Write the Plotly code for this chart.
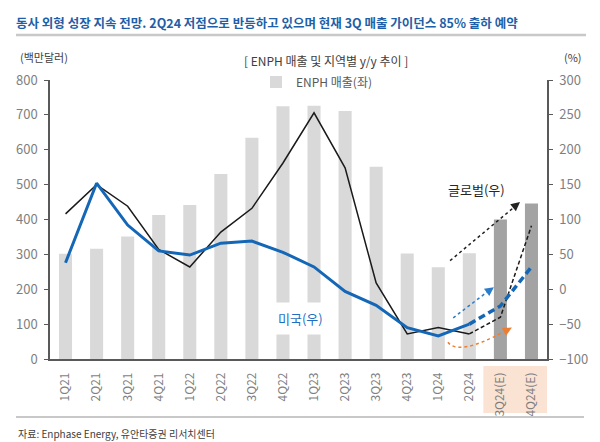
import math
import plotly.graph_objects as go

quarters = ["1Q21", "2Q21", "3Q21", "4Q21", "1Q22", "2Q22", "3Q22", "4Q22",
            "1Q23", "2Q23", "3Q23", "4Q23", "1Q24", "2Q24", "3Q24(E)", "4Q24(E)"]
revenue = [301.8, 316.1, 351.5, 412.7, 441.3, 530.2, 634.7, 724.7,
           726.0, 711.1, 551.1, 302.6, 263.3, 303.5, 400, 446]
global_yoy = [108, 150, 119, 57, 32, 82, 116, 181, 253, 174, 9, -64, -55, -64, -40, 91]
us_yoy = [38, 152, 92, 55, 49, 66, 69, 53, 32, -3, -23, -55, -67, -50, -24, 32]
n_actual = 14  # 1Q21..2Q24 actual, rest estimates

FONT = "Noto Sans CJK KR"
W, H = 600, 442
L, R, T, B = 50, 53, 80, 83

def px(x):
    return (x - L) / (W - L - R)

def py(y):
    return (H - B - y) / (H - T - B)

idx = list(range(len(quarters)))
bar_colors = ["#d9d9d9"] * n_actual + ["#a3a3a3"] * (len(quarters) - n_actual)

fig = go.Figure()
fig.add_trace(go.Bar(x=idx, y=revenue, width=0.42, marker_color=bar_colors,
                     marker_line_width=0, name="ENPH 매출(좌)", yaxis="y"))
# Global y/y
fig.add_trace(go.Scatter(x=idx[:n_actual], y=global_yoy[:n_actual], mode="lines",
                         line=dict(color="#1a1a1a", width=1.5), yaxis="y2", showlegend=False))
fig.add_trace(go.Scatter(x=idx[n_actual - 1:], y=global_yoy[n_actual - 1:], mode="lines",
                         line=dict(color="#1a1a1a", width=1.5, dash="4px,2.5px"), yaxis="y2", showlegend=False))
# US y/y
fig.add_trace(go.Scatter(x=idx[:n_actual], y=us_yoy[:n_actual], mode="lines",
                         line=dict(color="#1467b6", width=3), yaxis="y2", showlegend=False))
fig.add_trace(go.Scatter(x=idx[n_actual - 1:], y=us_yoy[n_actual - 1:], mode="lines",
                         line=dict(color="#1467b6", width=3.5, dash="7px,4px"), yaxis="y2", showlegend=False))

shapes = []
annotations = []

# peach highlight behind estimate labels
shapes.append(dict(type="rect", xref="x", yref="paper", x0=13.45, x1=15.5,
                   y0=py(413), y1=py(366), fillcolor="#fbe3d3", line_width=0, layer="below"))
# title underline and source line
shapes.append(dict(type="line", xref="paper", yref="paper", x0=px(16), x1=px(586),
                   y0=py(35), y1=py(35), line=dict(color="#c8c8c8", width=2.5)))
shapes.append(dict(type="line", xref="paper", yref="paper", x0=px(16), x1=px(584),
                   y0=py(417), y1=py(417), line=dict(color="#c8c8c8", width=2)))

# decorative dotted arrows (data coordinates: category index, right-axis %)
def arrow_head(x, y, dx, dy, color):
    m = math.hypot(dx, dy)
    annotations.append(dict(x=x, y=y, xref="x", yref="y2", text="", showarrow=True,
                            ax=-dx / m * 9, ay=dy / m * 9, arrowhead=2, arrowsize=1.2,
                            arrowwidth=1.5, arrowcolor=color, standoff=0, startstandoff=0))

shapes.append(dict(type="line", xref="x", yref="y2", x0=12.38, y0=41, x1=14.45, y1=118,
                   line=dict(color="#222222", width=1.5, dash="dot")))
arrow_head(14.63, 125, 70, 58, "#222222")
shapes.append(dict(type="line", xref="x", yref="y2", x0=12.48, y0=-41, x1=13.6, y1=-3,
                   line=dict(color="#2a7ccc", width=1.5, dash="dot")))
arrow_head(13.79, 3, 41, 30, "#2a7ccc")
shapes.append(dict(type="path", xref="x", yref="y2",
                   path="M 12.31,-76 Q 12.65,-96 14.1,-61",
                   line=dict(color="#ee7d31", width=1.5, dash="dot")))
arrow_head(14.37, -55, 57, 30, "#ee7d31")

# texts
annotations += [
    dict(x=px(14), y=py(22), xref="paper", yref="paper", xanchor="left", yanchor="middle",
         text="<b>동사 외형 성장 지속 전망. 2Q24 저점으로 반등하고 있으며 현재 3Q 매출 가이던스 85% 출하 예약</b>",
         showarrow=False, font=dict(family=FONT, size=12.5, color="#1e5fa8")),
    dict(x=px(18), y=py(57), xref="paper", yref="paper", xanchor="left", yanchor="middle",
         text="(백만달러)", showarrow=False, font=dict(family=FONT, size=11, color="#404040")),
    dict(x=px(584), y=py(57), xref="paper", yref="paper", xanchor="right", yanchor="middle",
         text="(%)", showarrow=False, font=dict(family=FONT, size=11, color="#404040")),
    dict(x=px(326), y=py(60), xref="paper", yref="paper", xanchor="center", yanchor="middle",
         text="[ ENPH 매출 및 지역별 y/y 추이 ]", showarrow=False,
         font=dict(family=FONT, size=12, color="#404040")),
    dict(x=px(16), y=py(433), xref="paper", yref="paper", xanchor="left", yanchor="middle",
         text="자료: Enphase Energy, 유안타증권 리서치센터", showarrow=False,
         font=dict(family=FONT, size=10, color="#404040")),
    dict(x=px(476), y=py(189), xref="paper", yref="paper", xanchor="center", yanchor="middle",
         text="글로벌(우)", showarrow=False, font=dict(family=FONT, size=13, color="#262626")),
    dict(x=px(300), y=py(318), xref="paper", yref="paper", xanchor="center", yanchor="middle",
         text="미국(우)", showarrow=False, bgcolor="white", borderpad=6,
         font=dict(family=FONT, size=13, color="#1f6fbf")),
]

axis_common = dict(showline=True, linecolor="#595959", linewidth=1.5, showgrid=False,
                   zeroline=False, tickfont=dict(family=FONT, size=13, color="#7f7f7f"))

fig.update_layout(
    width=W, height=H, autosize=False,
    margin=dict(l=L, r=R, t=T, b=B),
    paper_bgcolor="white", plot_bgcolor="white",
    bargap=0.5,
    font=dict(family=FONT),
    xaxis=dict(range=[-0.5, 15.5], tickmode="array", tickvals=idx, ticktext=quarters,
               tickangle=-90, showline=True, linecolor="#595959", linewidth=1.5,
               showgrid=False, zeroline=False, ticks="", ticklabelstandoff=7,
               tickfont=dict(family=FONT, size=12, color="#7f7f7f")),
    yaxis=dict(range=[0, 800], dtick=100, ticks="outside", ticklen=4, tickcolor="#595959",
               ticklabelstandoff=4, **axis_common),
    yaxis2=dict(range=[-100, 300], dtick=50, overlaying="y", side="right", ticks="outside",
                ticklen=4, tickcolor="#595959", ticklabelstandoff=4, **axis_common),
    legend=dict(orientation="h", x=px(256), xanchor="left", y=py(82), yanchor="middle",
                font=dict(family=FONT, size=12, color="#595959"), bgcolor="rgba(0,0,0,0)",
                itemwidth=30),
    showlegend=True,
    shapes=shapes,
    annotations=annotations,
)

fig.write_html("out.html")
